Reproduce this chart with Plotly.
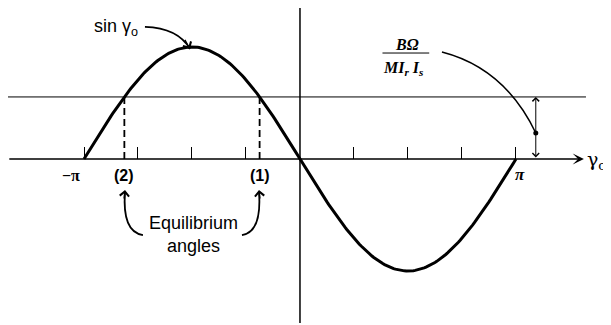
import numpy as np
import plotly.graph_objects as go

# curva del par: se dibuja entre -pi y pi
gamma = np.linspace(-np.pi, np.pi, 241)
par = -np.sin(gamma)

# nivel BΩ/(M Ir Is) y marcas del eje
nivel = 0.554
marcas = [k * np.pi / 4 for k in (-4, -3, -2, -1, 1, 2, 3, 4)]

# angulos de equilibrio (1) y (2)
eq1 = -np.arcsin(nivel)
eq2 = -np.pi + np.arcsin(nivel)

# punto sobre la flecha doble de la derecha
x_flecha = 3.43
y_punto = 0.232

# la pagina deja 8px de margen en el body, la figura se corre
x_rango = [-4.247, 4.524]
y_rango = [-1.482, 1.348]

fig = go.Figure()

# eje vertical
fig.add_trace(go.Scatter(x=[0, 0], y=[1.40, -1.464], mode='lines',
                         line=dict(color='black', width=1.5), hoverinfo='skip'))
# linea horizontal del nivel
fig.add_trace(go.Scatter(x=[-4.25, 4.16], y=[nivel, nivel], mode='lines',
                         line=dict(color='black', width=1), hoverinfo='skip'))
# lineas discontinuas en los equilibrios
for g in (eq1, eq2):
    fig.add_trace(go.Scatter(x=[g, g], y=[0, nivel], mode='lines',
                             line=dict(color='black', width=1.8, dash='7px,4px'),
                             hoverinfo='skip'))
# la senoide
fig.add_trace(go.Scatter(x=gamma, y=par, mode='lines',
                         line=dict(color='black', width=3), hoverinfo='skip'))
# punto
fig.add_trace(go.Scatter(x=[x_flecha], y=[y_punto], mode='markers',
                         marker=dict(color='black', size=5), hoverinfo='skip'))

anots = []
# eje horizontal con flecha
anots.append(dict(x=4.13, y=0, ax=-4.25, ay=0, xref='x', yref='y', axref='x', ayref='y',
                  text='', showarrow=True, arrowhead=3, arrowsize=1.1, arrowwidth=1.7,
                  arrowcolor='black'))
# flecha doble
anots.append(dict(x=x_flecha, y=nivel, ax=x_flecha, ay=0, xref='x', yref='y',
                  axref='x', ayref='y', text='', showarrow=True, arrowhead=4,
                  startarrowhead=4, arrowside='end+start', arrowsize=1.3,
                  startarrowsize=1.3, arrowwidth=1, arrowcolor='black'))
# puntas de las flechas curvas
for (x0, y0, x1, y1) in [(-1.687, 1.076, -1.60, 0.982),
                         (-2.56, -0.366, -2.545, -0.277),
                         (-0.582, -0.366, -0.596, -0.277)]:
    anots.append(dict(x=x1, y=y1, ax=x0, ay=y0, xref='x', yref='y', axref='x', ayref='y',
                      text='', showarrow=True, arrowhead=4, arrowsize=1.2,
                      arrowwidth=1.5, arrowcolor='black'))

fuente = 'Liberation Sans'
anots += [
    dict(x=-2.676, y=1.17, text='sin γ<sub>o</sub>', font=dict(size=18, family=fuente)),
    dict(x=-3.33, y=-0.143, text='<b>−π</b>', font=dict(size=16, family='Liberation Serif')),
    dict(x=eq2, y=-0.143, text='<b>(2)</b>', font=dict(size=16, family=fuente)),
    dict(x=eq1, y=-0.143, text='<b>(1)</b>', font=dict(size=16, family=fuente)),
    dict(x=3.2, y=-0.134, text='<b><i>π</i></b>', font=dict(size=17, family='Liberation Serif')),
    dict(x=4.15, y=-0.01, text='γ<sub>o</sub>', xanchor='left',
         font=dict(size=19, family='DejaVu Serif')),
    dict(x=-1.556, y=-0.67, text='Equilibrium<br>angles',
         font=dict(size=18, family=fuente)),
    dict(x=1.55, y=1.02, text='<b><i>BΩ</i></b>', font=dict(size=16, family='Liberation Serif')),
    dict(x=1.51, y=0.81, text='<b><i>MI<sub>r</sub> I<sub>s</sub></i></b>',
         font=dict(size=16, family='Liberation Serif')),
]
for a in anots:
    a.setdefault('xref', 'x')
    a.setdefault('yref', 'y')
    a.setdefault('showarrow', False)
    if 'font' in a:
        a['font']['color'] = 'black'

formas = [
    # raya de la fraccion
    dict(type='line', xref='x', yref='y', x0=1.20, x1=1.88, y0=0.946, y1=0.946,
         line=dict(color='black', width=1)),
    # curva de BΩ al punto
    dict(type='path', xref='x', yref='y',
         path='M 2.065,0.955 Q 2.98,0.81 %.3f,%.3f' % (x_flecha, y_punto),
         line=dict(color='black', width=1.5)),
    # curva de sin γo
    dict(type='path', xref='x', yref='y',
         path='M -2.255,1.179 Q -1.775,1.17 -1.60,0.982',
         line=dict(color='black', width=1.8)),
    # flechas de equilibrio
    dict(type='path', xref='x', yref='y',
         path='M -2.284,-0.679 Q -2.589,-0.652 -2.545,-0.295',
         line=dict(color='black', width=1.8)),
    dict(type='path', xref='x', yref='y',
         path='M -0.844,-0.679 Q -0.553,-0.652 -0.596,-0.295',
         line=dict(color='black', width=1.8)),
]

pos = -y_rango[0] / (y_rango[1] - y_rango[0])

fig.update_layout(
    width=603, height=317,
    margin=dict(l=0, r=0, t=0, b=0),
    paper_bgcolor='white', plot_bgcolor='white',
    showlegend=False,
    annotations=anots,
    shapes=formas,
    xaxis=dict(range=x_rango, showgrid=False, zeroline=False, showline=False,
               tickvals=marcas, ticks='inside', ticklen=12, tickwidth=1,
               tickcolor='black', showticklabels=False,
               anchor='free', position=pos, fixedrange=True),
    yaxis=dict(range=y_rango, visible=False, fixedrange=True),
)

fig.write_html("out.html")
